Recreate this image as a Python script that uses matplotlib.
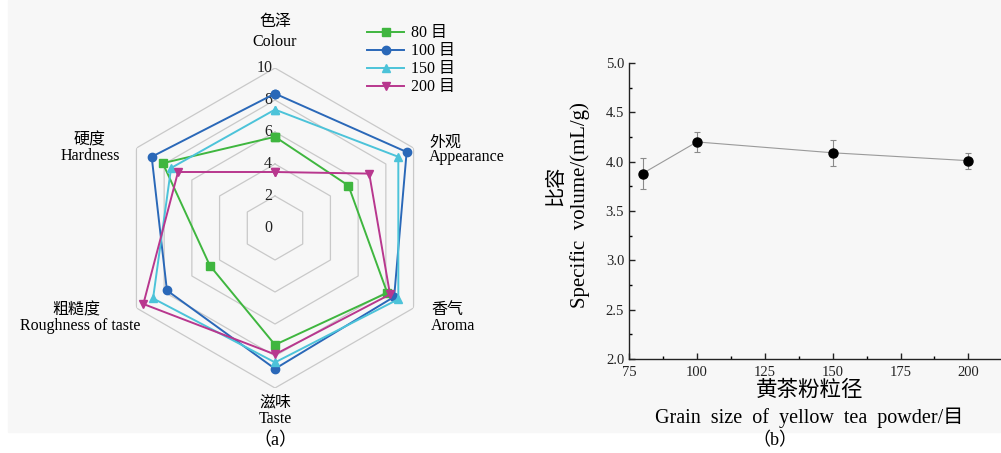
import numpy as np
import matplotlib
matplotlib.use("Agg")
from matplotlib import pyplot as plt
from matplotlib import transforms
from matplotlib.patches import Rectangle

plt.rcParams['font.family'] = ['Liberation Serif', 'Noto Sans CJK SC']

# radar data (sensory scores)
attrs_cn = ['色泽', '外观', '香气', '滋味', '粗糙度', '硬度']
attrs_en = ['Colour', 'Appearance', 'Aroma', 'Taste', 'Roughness of taste', 'Hardness']
mesh_labels = ['80 目', '100 目', '150 目', '200 目']
score_80 = [5.7, 5.3, 8.1, 7.3, 4.7, 8.1]
score_100 = [8.4, 9.5, 8.6, 8.8, 7.8, 8.9]
score_150 = [7.4, 8.9, 8.9, 8.4, 8.8, 7.5]
score_200 = [3.5, 6.8, 8.3, 7.9, 9.5, 7.0]
ring_levels = [2, 4, 6, 8, 10]
ring_labels = [0, 2, 4, 6, 8, 10]

# specific volume data
grain = [80, 100, 150, 200]
spec_vol = [3.88, 4.20, 4.09, 4.01]
spec_err = [0.16, 0.10, 0.13, 0.08]

W, H = 1001, 453
fig = plt.figure(figsize=(W / 100, H / 100), dpi=100)
fig.patches.append(Rectangle((8 / W, (H - 432) / H), 1 - 8 / W, 432 / H,
                             transform=fig.transFigure, color='#f7f7f7', zorder=-10))


def px(x, y):
    return x / W, 1 - y / H


# ---- (a) radar ----
cx, cy, R = 275, 228, 160
ax = fig.add_axes([(cx - R) / W, (H - cy - R) / H, 2 * R / W, 2 * R / H], projection='polar')
ax.set_theta_offset(np.pi / 2)
ax.set_theta_direction(-1)
ax.set_ylim(0, 10)
ax.grid(False)
ax.set_xticks([])
ax.set_yticks([])
ax.spines['polar'].set_visible(False)
ax.patch.set_alpha(0)

theta = np.deg2rad(np.arange(0, 360, 60))
theta_c = np.append(theta, theta[0])
for lv in ring_levels:
    ax.plot(theta_c, [lv] * 7, color='#c9c9c9', lw=0.9, zorder=1)

off = transforms.offset_copy(ax.transData, fig, x=-2, y=0, units='points')
for lv in ring_labels:
    ax.text(0, lv, str(lv), transform=off, ha='right', va='center', fontsize=11.5, color='#222222')

series = [score_80, score_100, score_150, score_200]
colors = ['#3fb63f', '#2a68b8', '#4cc3d9', '#b8378e']
markers = ['s', 'o', '^', 'v']
handles = []
for vals, c, m, lab in zip(series, colors, markers, mesh_labels):
    v = np.append(vals, vals[0])
    h, = ax.plot(theta_c, v, color=c, lw=1.4, marker=m, ms=6, label=lab, clip_on=False, zorder=3)
    handles.append(h)

leg = fig.legend(handles=handles, loc='upper left', bbox_to_anchor=px(361, 19), frameon=False,
                 fontsize=11.5, handlelength=2.3, handletextpad=0.4, labelspacing=0.12,
                 borderaxespad=0)

label_pos = [(275, 22, 275, 42), (445, 143, 467, 157), (447, 310, 453, 326),
             (275, 402, 275, 419), (76, 310, 80, 326), (90, 140, 90, 156)]
for (x1, y1, x2, y2), cn, en in zip(label_pos, attrs_cn, attrs_en):
    fig.text(*px(x1, y1), cn, ha='center', va='center', fontsize=11.5)
    fig.text(*px(x2, y2), en, ha='center', va='center', fontsize=11.5)

fig.text(*px(275, 441), '（a）', ha='center', va='center', fontsize=13)

# ---- (b) specific volume ----
ax2 = fig.add_axes([629 / W, (H - 359) / H, (W - 629) / W, (359 - 63) / H])
ax2.patch.set_alpha(0)
ax2.errorbar(grain, spec_vol, yerr=spec_err, color='#9a9a9a', lw=0.8, ecolor='#8a8a8a',
             elinewidth=0.8, capsize=2.5, capthick=0.8, marker='o', mfc='black', mec='black',
             ms=6.5, zorder=3)
ax2.set_xlim(75, 212)
ax2.set_ylim(2.0, 5.0)
ax2.set_xticks([75, 100, 125, 150, 175, 200])
ax2.set_xticks([87.5, 112.5, 137.5, 162.5, 187.5], minor=True)
ax2.set_yticks(np.arange(2.0, 5.01, 0.5))
ax2.set_yticks(np.arange(2.25, 5.0, 0.5), minor=True)
ax2.set_yticklabels([f'{v:.1f}' for v in np.arange(2.0, 5.01, 0.5)])
ax2.tick_params(which='major', direction='in', length=4, width=1, labelsize=10.5, colors='#222222')
ax2.tick_params(axis='x', which='major', pad=5)
ax2.tick_params(which='minor', direction='in', length=2.5, width=1)
for s in ['top', 'right']:
    ax2.spines[s].set_visible(False)
for s in ['left', 'bottom']:
    ax2.spines[s].set_linewidth(1)
    ax2.spines[s].set_color('#222222')

fig.text(*px(557, 186), '比容', rotation=90, ha='center', va='center', fontsize=14.5)
fig.text(*px(580, 205), 'Specific  volume/(mL/g)', rotation=90, ha='center', va='center', fontsize=15)
fig.text(*px(810, 391), '黄茶粉粒径', ha='center', va='center', fontsize=15.5)
fig.text(*px(809, 418), 'Grain  size  of  yellow  tea  powder/目', ha='center', va='center', fontsize=14.5)
fig.text(*px(775, 441), '（b）', ha='center', va='center', fontsize=13)

fig.savefig('out.png', dpi=100)
